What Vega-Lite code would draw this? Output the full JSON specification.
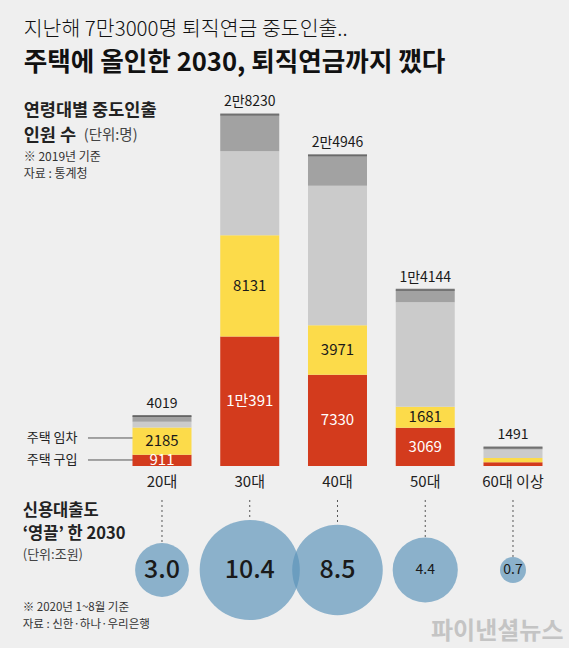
{
  "$schema": "https://vega.github.io/schema/vega-lite/v6.json",
  "width": 569,
  "height": 648,
  "autosize": {"type": "none"},
  "padding": 0,
  "background": "#EFEFEF",
  "config": {"view": {"stroke": null}, "font": "Noto Sans CJK KR"},
  "datasets": {
    "segments": [
      {"age": "20대", "type": "구입", "value": 911, "label": "911"},
      {"age": "20대", "type": "임차", "value": 2185, "label": "2185"},
      {"age": "20대", "type": "장기요양", "value": 463},
      {"age": "20대", "type": "회생·파산 등", "value": 460},
      {"age": "30대", "type": "구입", "value": 10391, "label": "1만391"},
      {"age": "30대", "type": "임차", "value": 8131, "label": "8131"},
      {"age": "30대", "type": "장기요양", "value": 6750},
      {"age": "30대", "type": "회생·파산 등", "value": 2958},
      {"age": "40대", "type": "구입", "value": 7330, "label": "7330"},
      {"age": "40대", "type": "임차", "value": 3971, "label": "3971"},
      {"age": "40대", "type": "장기요양", "value": 11205},
      {"age": "40대", "type": "회생·파산 등", "value": 2440},
      {"age": "50대", "type": "구입", "value": 3069, "label": "3069"},
      {"age": "50대", "type": "임차", "value": 1681, "label": "1681"},
      {"age": "50대", "type": "장기요양", "value": 8404},
      {"age": "50대", "type": "회생·파산 등", "value": 990},
      {"age": "60대 이상", "type": "구입", "value": 300},
      {"age": "60대 이상", "type": "임차", "value": 350},
      {"age": "60대 이상", "type": "장기요양", "value": 680},
      {"age": "60대 이상", "type": "회생·파산 등", "value": 161}
    ],
    "totals": [
      {"age": "20대", "total": 4019, "label": "4019"},
      {"age": "30대", "total": 28230, "label": "2만8230"},
      {"age": "40대", "total": 24946, "label": "2만4946"},
      {"age": "50대", "total": 14144, "label": "1만4144"},
      {"age": "60대 이상", "total": 1491, "label": "1491"}
    ],
    "loans": [
      {"age": "20대", "loan": 3.0},
      {"age": "30대", "loan": 10.4},
      {"age": "40대", "loan": 8.5},
      {"age": "50대", "loan": 4.4},
      {"age": "60대 이상", "loan": 0.7}
    ]
  },
  "data": {"values": [{}]},
  "layer": [
    {
      "mark": {"type": "rule", "color": "#555555", "strokeWidth": 1},
      "encoding": {
        "x": {"datum": "_", "bandPosition": 0.733, "type": "nominal",
          "scale": {"type": "band", "domain": ["_", "20대", "30대", "40대", "50대", "60대 이상"], "paddingInner": 0.3276, "paddingOuter": 0.406, "align": 0.628},
          "axis": null},
        "x2": {"datum": "20대"},
        "y": {"datum": 2249, "type": "quantitative", "scale": {"domain": [-14615, 37420], "zero": false, "nice": false}, "axis": null}
      }
    },
    {
      "mark": {"type": "rule", "color": "#555555", "strokeWidth": 1},
      "encoding": {
        "x": {"datum": "_", "bandPosition": 0.733, "type": "nominal"},
        "x2": {"datum": "20대"},
        "y": {"datum": 482, "type": "quantitative"}
      }
    },
    {
      "data": {"name": "segments"},
      "transform": [{"stack": "value", "groupby": ["age"], "sort": [{"field": "type", "order": "ascending"}], "as": ["y0", "y1"]}],
      "mark": {"type": "bar"},
      "encoding": {
        "x": {"field": "age", "type": "nominal"},
        "y": {"field": "y1", "type": "quantitative"},
        "y2": {"field": "y0"},
        "color": {"field": "type", "type": "nominal", "legend": null,
          "scale": {"domain": ["구입", "임차", "장기요양", "회생·파산 등"], "range": ["#D33B1D", "#FCDB4A", "#CBCBCB", "#A2A2A2"]}}
      }
    },
    {
      "data": {"name": "totals"},
      "mark": {"type": "tick", "color": "#4A4A4A", "thickness": 2, "size": 59},
      "encoding": {
        "x": {"field": "age", "type": "nominal"},
        "y": {"field": "total", "type": "quantitative"}
      }
    },
    {
      "data": {"name": "segments"},
      "transform": [
        {"stack": "value", "groupby": ["age"], "sort": [{"field": "type", "order": "ascending"}], "as": ["y0", "y1"]},
        {"filter": "datum.label != null"},
        {"fold": ["y0", "y1"], "as": ["edge", "edgeValue"]},
        {"aggregate": [{"op": "mean", "field": "edgeValue", "as": "mid"}], "groupby": ["age", "type", "label"]}
      ],
      "mark": {"type": "text", "fontSize": 15, "baseline": "middle"},
      "encoding": {
        "x": {"field": "age", "type": "nominal"},
        "y": {"field": "mid", "type": "quantitative"},
        "text": {"field": "label"},
        "color": {"condition": {"test": "datum.type === '구입'", "value": "#FFFFFF"}, "value": "#1A1A1A"}
      }
    },
    {
      "data": {"name": "totals"},
      "mark": {"type": "text", "fontSize": 14, "baseline": "bottom", "dy": -5, "color": "#1A1A1A"},
      "encoding": {
        "x": {"field": "age", "type": "nominal"},
        "y": {"field": "total", "type": "quantitative"},
        "text": {"field": "label"}
      }
    },
    {
      "data": {"name": "loans"},
      "mark": {"type": "text", "fontSize": 15, "baseline": "middle", "color": "#222222"},
      "encoding": {
        "x": {"field": "age", "type": "nominal"},
        "y": {"datum": -1285, "type": "quantitative"},
        "text": {"field": "age"}
      }
    },
    {
      "data": {"name": "loans"},
      "mark": {"type": "rule", "color": "#555555", "strokeWidth": 1, "strokeDash": [2, 3]},
      "encoding": {
        "x": {"field": "age", "type": "nominal"},
        "y": {"datum": -2730, "type": "quantitative"},
        "y2": {"datum": -8351}
      }
    },
    {
      "data": {"name": "loans"},
      "mark": {"type": "circle", "opacity": 1, "color": "#EFEFEF"},
      "encoding": {
        "x": {"field": "age", "type": "nominal"},
        "y": {"datum": -8351, "type": "quantitative"},
        "size": {"field": "loan", "type": "quantitative", "legend": null, "scale": {"type": "linear", "domain": [0, 10.4], "range": [0, 10029], "zero": true}}
      }
    },
    {
      "data": {"name": "loans"},
      "mark": {"type": "circle", "opacity": 0.68, "color": "#5B93B9"},
      "encoding": {
        "x": {"field": "age", "type": "nominal"},
        "y": {"datum": -8351, "type": "quantitative"},
        "size": {"field": "loan", "type": "quantitative", "legend": null}
      }
    },
    {
      "data": {"name": "loans"},
      "transform": [{"filter": "datum.loan >= 3 && datum.loan != 4.4"}],
      "mark": {"type": "text", "baseline": "middle", "color": "#1A1A1A", "fontSize": 25, "fontWeight": 500},
      "encoding": {
        "x": {"field": "age", "type": "nominal"},
        "y": {"datum": -8351, "type": "quantitative"},
        "text": {"field": "loan", "format": ".1f"}
      }
    },
    {
      "data": {"name": "loans"},
      "transform": [{"filter": "datum.loan < 3 || datum.loan == 4.4"}],
      "mark": {"type": "text", "baseline": "middle", "color": "#1A1A1A", "fontSize": 14},
      "encoding": {
        "x": {"field": "age", "type": "nominal"},
        "y": {"datum": -8351, "type": "quantitative"},
        "text": {"field": "loan", "format": ".1f"}
      }
    },
    {
      "mark": {"type": "text", "text": "지난해 7만3000명 퇴직연금 중도인출..", "align": "left", "baseline": "middle", "fontSize": 20.5, "fontWeight": 300, "color": "#111111", "dx": -21},
      "encoding": {"x": {"datum": "_", "bandPosition": 0, "type": "nominal"}, "y": {"datum": 35011, "type": "quantitative"}}
    },
    {
      "mark": {"type": "text", "text": "주택에 올인한 2030, 퇴직연금까지 깼다", "align": "left", "baseline": "middle", "fontSize": 25.6, "fontWeight": "bold", "color": "#111111", "dx": -21},
      "encoding": {"x": {"datum": "_", "bandPosition": 0, "type": "nominal"}, "y": {"datum": 32361, "type": "quantitative"}}
    },
    {
      "mark": {"type": "text", "text": "연령대별 중도인출", "align": "left", "baseline": "middle", "fontSize": 17.5, "fontWeight": "bold", "color": "#222222", "dx": -21},
      "encoding": {"x": {"datum": "_", "bandPosition": 0, "type": "nominal"}, "y": {"datum": 28507, "type": "quantitative"}}
    },
    {
      "mark": {"type": "text", "text": "인원 수", "align": "left", "baseline": "middle", "fontSize": 17.5, "fontWeight": "bold", "color": "#222222", "dx": -21},
      "encoding": {"x": {"datum": "_", "bandPosition": 0, "type": "nominal"}, "y": {"datum": 26499, "type": "quantitative"}}
    },
    {
      "mark": {"type": "text", "text": "(단위:명)", "align": "left", "baseline": "middle", "fontSize": 14.5, "color": "#444444", "dx": 39},
      "encoding": {"x": {"datum": "_", "bandPosition": 0, "type": "nominal"}, "y": {"datum": 26499, "type": "quantitative"}}
    },
    {
      "mark": {"type": "text", "text": "※ 2019년 기준", "align": "left", "baseline": "middle", "fontSize": 12, "color": "#333333", "dx": -21},
      "encoding": {"x": {"datum": "_", "bandPosition": 0, "type": "nominal"}, "y": {"datum": 24813, "type": "quantitative"}}
    },
    {
      "mark": {"type": "text", "text": "자료 : 통계청", "align": "left", "baseline": "middle", "fontSize": 12, "color": "#333333", "dx": -21},
      "encoding": {"x": {"datum": "_", "bandPosition": 0, "type": "nominal"}, "y": {"datum": 23448, "type": "quantitative"}}
    },
    {
      "mark": {"type": "text", "text": "주택 임차", "align": "left", "baseline": "middle", "fontSize": 13, "color": "#222222", "dx": -18},
      "encoding": {"x": {"datum": "_", "bandPosition": 0, "type": "nominal"}, "y": {"datum": 2249, "type": "quantitative"}}
    },
    {
      "mark": {"type": "text", "text": "주택 구입", "align": "left", "baseline": "middle", "fontSize": 13, "color": "#222222", "dx": -18},
      "encoding": {"x": {"datum": "_", "bandPosition": 0, "type": "nominal"}, "y": {"datum": 482, "type": "quantitative"}}
    },
    {
      "mark": {"type": "text", "text": "신용대출도", "align": "left", "baseline": "middle", "fontSize": 16.5, "fontWeight": "bold", "color": "#222222", "dx": -22},
      "encoding": {"x": {"datum": "_", "bandPosition": 0, "type": "nominal"}, "y": {"datum": -3613, "type": "quantitative"}}
    },
    {
      "mark": {"type": "text", "text": "‘영끌’ 한 2030", "align": "left", "baseline": "middle", "fontSize": 16.5, "fontWeight": "bold", "color": "#222222", "dx": -22},
      "encoding": {"x": {"datum": "_", "bandPosition": 0, "type": "nominal"}, "y": {"datum": -5460, "type": "quantitative"}}
    },
    {
      "mark": {"type": "text", "text": "(단위:조원)", "align": "left", "baseline": "middle", "fontSize": 13, "color": "#444444", "dx": -22},
      "encoding": {"x": {"datum": "_", "bandPosition": 0, "type": "nominal"}, "y": {"datum": -7146, "type": "quantitative"}}
    },
    {
      "mark": {"type": "text", "text": "※ 2020년 1~8월 기준", "align": "left", "baseline": "middle", "fontSize": 11.5, "color": "#333333", "dx": -22},
      "encoding": {"x": {"datum": "_", "bandPosition": 0, "type": "nominal"}, "y": {"datum": -11402, "type": "quantitative"}}
    },
    {
      "mark": {"type": "text", "text": "자료 : 신한·하나·우리은행", "align": "left", "baseline": "middle", "fontSize": 11.5, "color": "#333333", "dx": -22},
      "encoding": {"x": {"datum": "_", "bandPosition": 0, "type": "nominal"}, "y": {"datum": -12768, "type": "quantitative"}}
    },
    {
      "mark": {"type": "text", "text": "파이낸셜뉴스", "align": "right", "baseline": "middle", "fontSize": 24, "fontWeight": "bold", "color": "#C4C4C4", "dx": 21},
      "encoding": {"x": {"datum": "60대 이상", "bandPosition": 1, "type": "nominal"}, "y": {"datum": -13330, "type": "quantitative"}}
    }
  ]
}
